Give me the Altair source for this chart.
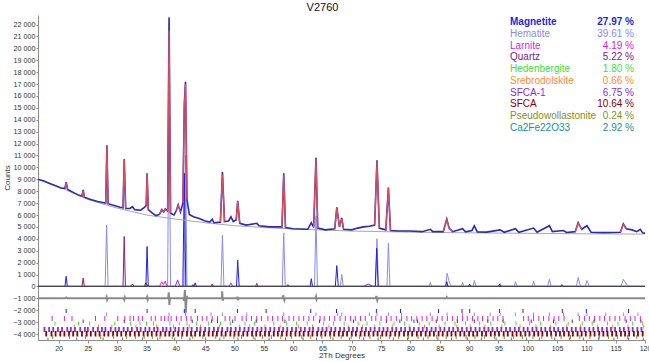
import altair as alt
import pandas as pd

# ------------------------------------------------------------------ data
title_text = "V2760"

phase_names = ["Magnetite", "Hematite", "Larnite", "Quartz", "Hedenbergite",
               "Srebrodolskite", "SFCA-1", "SFCA", "Pseudowollastonite", "Ca2Fe22O33"]
phase_pct = [27.97, 39.61, 4.19, 5.22, 1.80, 0.66, 6.75, 10.64, 0.24, 2.92]
phase_colors = ["#1f1fe6", "#8a8aee", "#e020e0", "#802080", "#3ee03e",
                "#ff8c30", "#8a2be2", "#8b0000", "#8c8c1a", "#1a9090"]

# observed pattern (2Th, counts)
obs_tt = [16.5, 17.5, 18.5, 19.5, 20.5, 21.1, 21.3, 21.55, 22.5, 23.5, 24.0, 24.2, 24.4, 25.5, 26.5,
          27.5, 28.05, 28.25, 28.45, 29.5, 30.5, 31.0, 31.2, 31.45, 32.2, 32.6, 33.0, 34.0, 34.7,
          34.95, 35.1, 35.3, 36.0, 36.6, 37.2, 37.6, 37.9, 38.2, 38.6, 38.85, 39.1, 39.7, 40.1,
          40.4, 40.8, 41.2, 41.45, 41.65, 41.9, 42.3, 43.0, 44.0, 45.0, 45.8, 46.2, 46.5, 47.6,
          47.95, 48.3, 49.0, 49.4, 49.8, 50.3, 50.55, 50.9, 52.0, 53.8, 54.2, 56.0, 58.1, 58.4,
          58.7, 60.0, 62.5, 63.1, 63.5, 63.9, 64.2, 65.5, 67.1, 67.45, 67.9, 68.3, 68.6, 70.0,
          71.0, 72.0, 73.0, 73.9, 74.3, 74.7, 75.8, 76.25, 76.6, 78.0, 80.0, 82.0, 83.4, 83.8,
          85.6, 86.2, 86.6, 87.2, 88.9, 89.4, 90.5, 90.9, 91.4, 93.0, 95.3, 96.0, 97.9, 98.5,
          101.0, 101.6, 103.7, 104.2, 106.1, 106.6, 108.1, 108.6, 109.2, 110.1, 110.8, 113.0,
          115.8, 116.3, 116.8, 117.8, 118.6, 119.2, 119.6, 120.0]
obs_ct = [9000, 8850, 8650, 8450, 8250, 8250, 8750, 8150, 7900, 7650, 7600, 8100, 7500, 7300, 7150,
          7050, 7000, 11850, 6950, 6800, 6650, 6600, 10700, 6550, 6550, 6700, 6450, 6400, 6650,
          6800, 9500, 6450, 6150, 5950, 6050, 6450, 6250, 6500, 6350, 22600, 6150, 6000, 6400,
          6850, 6250, 7000, 15300, 17200, 7300, 6050, 5850, 5700, 5500, 5400, 5650, 5350, 5400,
          9600, 5450, 5500, 5850, 5450, 5600, 7200, 5300, 5150, 5300, 5100, 5000, 5000, 9500,
          4950, 4850, 4800, 5350, 4950, 10800, 4900, 4750, 4850, 6650, 5000, 5750, 4800, 4750,
          4900, 5000, 5050, 5150, 10600, 4900, 4750, 8300, 4700, 4650, 4650, 4600, 4800, 4600,
          4600, 5650, 4900, 4600, 4850, 4580, 4700, 5100, 4580, 4560, 4750, 4550, 4850, 4550,
          4900, 4550, 5100, 4600, 4700, 4530, 4600, 5350, 4800, 5100, 4550, 4520,
          4550, 5250, 4850, 4750, 4600, 4800, 4500, 4480]

# calculated pattern where it rises above the noise (one list per peak)
calc_peaks = [
    [(21.1, 8250), (21.3, 8700), (21.55, 8150)],
    [(24.0, 7600), (24.2, 8050), (24.4, 7500)],
    [(28.05, 7000), (28.25, 11800), (28.45, 6950)],
    [(31.0, 6600), (31.2, 10650), (31.45, 6550)],
    [(34.95, 6800), (35.1, 9450), (35.3, 6450)],
    [(37.2, 6050), (37.6, 6400), (37.9, 6250), (38.2, 6450), (38.6, 6350)],
    [(38.6, 6350), (38.85, 21500), (39.1, 6150)],
    [(40.1, 6400), (40.4, 6800), (40.8, 6250)],
    [(41.2, 7000), (41.45, 15200), (41.65, 17000), (41.9, 7300)],
    [(47.6, 5400), (47.95, 9400), (48.3, 5450)],
    [(50.3, 5600), (50.55, 7150), (50.9, 5300)],
    [(58.1, 5000), (58.4, 9400), (58.7, 4950)],
    [(63.5, 4950), (63.9, 10700), (64.2, 4900)],
    [(67.1, 4850), (67.45, 6600), (67.9, 5000), (68.3, 5700), (68.6, 4800)],
    [(73.9, 5150), (74.3, 10500), (74.7, 4900)],
    [(75.8, 4750), (76.25, 8250), (76.6, 4700)],
    [(85.6, 4600), (86.2, 5600), (86.6, 4900), (87.2, 4600)],
    [(108.1, 4600), (108.6, 5300), (109.2, 4800)],
    [(115.8, 4550), (116.3, 5200), (116.8, 4850)],
]

# background
bkg_tt = [16.5, 20, 25, 30, 35, 40, 45, 50, 55, 60, 70, 80, 90, 100, 110, 120]
bkg_ct = [8980, 8380, 7300, 6580, 6000, 5650, 5350, 5100, 4950, 4820, 4650, 4560, 4500, 4460, 4420, 4400]

# difference curve (obs - calc, shifted)
diff_tt = [16.5, 21.1, 21.3, 21.5, 28.1, 28.2, 28.3, 28.4, 31.1, 31.2, 31.3, 31.4, 35.0, 35.1, 35.2,
           35.3, 38.7, 38.8, 38.9, 39.0, 39.1, 41.3, 41.4, 41.55, 41.7, 41.85, 42.0, 47.85, 47.9,
           48.0, 48.1, 50.45, 50.5, 50.6, 50.7, 58.2, 58.3, 58.5, 58.6, 63.8, 63.9, 64.0, 64.1,
           74.1, 74.2, 74.35, 74.45, 86.1, 86.2, 86.3, 120.0]
diff_ct = [-1000, -1000, -930, -1000, -1000, -880, -1120, -1000, -1000, -1120, -900, -1000, -1000,
           -880, -1120, -1000, -1000, -500, -1550, -950, -1000, -1000, -1200, -300, -2200, -800,
           -1000, -1000, -400, -1200, -1000, -1000, -850, -1150, -1000, -1000, -750, -1150, -1000,
           -1000, -850, -1100, -1000, -1000, -800, -1150, -1000, -1000, -900, -1000, -1000]

# individual phase contributions (2Th, counts)
hem_curve = [(16.5, 0), (27.95, 0), (28.2, 5150), (28.45, 0), (38.6, 0), (38.85, 16900), (39.1, 0),
             (41.4, 0), (41.65, 11000), (41.9, 0), (47.7, 0), (47.95, 4300), (48.2, 0), (58.15, 0),
             (58.4, 4500), (58.65, 0), (63.65, 0), (63.9, 5900), (64.15, 0), (68.05, 0), (68.3, 1000),
             (68.55, 0), (74.05, 0), (74.3, 4000), (74.55, 0), (76.0, 0), (76.25, 3650), (76.5, 0),
             (83.2, 0), (83.4, 350), (83.6, 0), (86.0, 0), (86.25, 1100), (86.7, 250), (87.0, 0),
             (88.7, 0), (88.9, 350), (89.1, 0), (90.7, 0), (90.9, 500), (91.2, 0), (95.1, 0),
             (95.3, 250), (95.6, 0), (97.7, 0), (97.9, 400), (98.2, 0), (100.8, 0), (101.0, 450),
             (101.3, 0), (103.4, 0), (103.7, 600), (104.0, 0), (108.3, 0), (108.6, 750), (109.0, 0),
             (109.8, 0), (110.1, 500), (110.5, 0), (115.9, 0), (116.3, 600), (116.9, 150),
             (117.3, 0), (120, 0)]
mag_curve = [(16.5, 0), (21.1, 0), (21.3, 850), (21.5, 0), (34.9, 0), (35.1, 3350), (35.3, 0),
             (41.2, 0), (41.45, 9500), (41.7, 0), (43.1, 0), (43.3, 300), (43.5, 0), (50.35, 0),
             (50.55, 2200), (50.8, 0), (62.9, 0), (63.1, 650), (63.3, 0), (67.2, 0), (67.45, 1750),
             (67.7, 0), (74.0, 0), (74.25, 3200), (74.5, 0), (86.0, 0), (86.2, 400), (86.4, 0),
             (89.9, 0), (90.1, 200), (90.3, 0), (95.0, 0), (95.2, 200), (95.4, 0), (105.6, 0),
             (105.8, 150), (106.0, 0), (120, 0)]
qtz_curve = [(16.5, 0), (24.0, 0), (24.2, 700), (24.4, 0), (31.0, 0), (31.2, 4200), (31.4, 0),
             (42.7, 0), (42.9, 150), (43.1, 0), (46.0, 0), (46.2, 200), (46.4, 0), (53.6, 0),
             (53.8, 250), (54.0, 0), (58.9, 0), (59.1, 150), (59.3, 0), (120, 0)]
lar_curve = [(16.5, 0), (37.2, 0), (37.6, 400), (37.9, 150), (38.2, 450), (38.5, 0), (49.1, 0),
             (49.4, 300), (49.7, 0), (120, 0)]
sfca1_curve = [(16.5, 0), (39.9, 0), (40.3, 550), (40.7, 0), (72.0, 0), (72.8, 200), (73.6, 0), (120, 0)]
sfca_curve = [(16.5, 0), (32.3, 0), (32.6, 200), (32.9, 0), (34.6, 0), (34.9, 300), (35.2, 0), (120, 0)]
hed_curve = [(16.5, 0), (34.5, 0), (34.8, 200), (35.0, 0), (120, 0)]

# reflection positions (2Th) for each phase
ticks_mag = [21.3, 35.1, 41.45, 43.3, 50.5, 55.4, 63.0, 67.4, 74.2, 78.3, 84.8, 88.8, 90.1, 95.2,
             99.2, 105.9, 110.0, 117.2]
ticks_hem = [28.2, 38.85, 41.65, 46.0, 47.95, 52.1, 58.4, 63.9, 67.6, 68.3, 73.0, 74.3, 76.25, 78.5,
             83.4, 86.25, 88.9, 90.9, 93.6, 95.3, 97.9, 101.0, 103.7, 106.1, 108.6, 110.1, 113.3,
             116.3, 118.8]
ticks_lar = [18.9, 21.0, 22.3, 26.3, 27.9, 30.1, 31.3, 32.2, 32.8, 33.6, 34.3, 35.8, 36.5, 37.5, 38.1,
             38.7, 39.2, 40.1, 40.9, 41.8, 42.6, 43.7, 44.5, 45.3, 46.2, 47.1, 48.4, 49.2, 50.1, 51.3,
             52.0, 52.9, 53.8, 54.6, 55.7, 56.5, 57.4, 58.2, 59.3, 60.1, 61.0, 61.8, 62.7, 63.5,
             64.6, 65.3, 66.2, 67.1, 68.0, 68.9, 69.8, 70.6, 71.5, 72.3, 73.4, 74.1, 75.0, 75.9,
             76.7, 77.6, 78.5, 79.4, 80.2, 81.1, 82.0, 82.8, 83.7, 84.6, 85.4, 86.3, 87.2, 88.0,
             88.9, 89.7, 90.6, 91.5, 92.3, 93.2, 94.1, 94.9, 95.8, 99.3, 100.1, 101.0, 101.9,
             102.7, 103.6, 104.5, 105.3, 106.2, 108.8, 109.7, 110.5, 111.4, 112.3, 113.1, 114.0,
             114.9, 115.7, 116.6, 117.5, 118.3, 119.2]
ticks_qtz = [24.2, 31.2, 42.8, 46.1, 47.1, 49.7, 53.7, 58.6, 64.5, 70.3, 75.9, 78.2, 80.6, 81.2, 84.4,
             88.0, 90.9, 93.2, 95.8, 100.6, 104.4, 107.6, 111.3, 116.8, 119.3]
ticks_hed = [19.4, 23.4, 25.3, 29.6, 32.3, 33.9, 35.0, 36.2, 39.0, 40.6, 41.9, 43.5, 45.6, 47.6, 49.3,
             51.8, 53.4, 56.7, 58.9, 60.6, 62.4, 65.2, 66.9, 68.7, 71.1, 72.6, 74.8, 77.2, 79.0,
             81.5, 83.2, 85.9, 87.6, 89.4, 91.8, 93.7, 96.1, 98.0, 100.3, 102.2, 104.8, 106.9,
             109.3, 111.0, 113.6, 115.4, 117.9, 119.6]
ticks_sre = [22.7, 26.8, 29.1, 33.2, 36.7, 39.6, 42.3, 44.2, 47.4, 50.9, 52.6, 55.2, 57.8, 60.9, 63.3,
             66.1, 69.4, 71.8, 73.9, 76.9, 79.8, 82.4, 84.9, 87.9, 90.2, 92.7, 95.6, 98.7, 101.4,
             103.9, 106.6, 109.0, 111.9, 114.5, 117.1, 119.8]
ticks_sfca1 = [17.6, 18.4, 19.1, 19.9, 20.6, 21.5, 22.1, 22.8, 23.7, 24.5, 25.0, 25.9, 26.7, 27.4,
               28.0, 28.9, 29.7, 30.3, 31.1, 31.8, 32.5, 33.4, 34.0, 34.8, 35.5, 36.3, 36.9, 37.8,
               38.4, 39.1, 39.9, 40.5, 41.3, 42.0, 42.7, 43.6, 44.2, 45.0, 45.7, 46.5, 47.2, 47.9,
               48.8, 49.4, 50.2, 50.9, 51.7, 52.4, 53.1, 53.9, 54.6, 55.3, 56.1, 56.8, 57.6, 58.3,
               59.0, 59.8, 60.5, 61.3, 62.0, 62.8, 63.4, 64.3, 65.0, 65.7, 66.5, 67.2, 68.0, 68.7,
               69.5, 70.2, 70.9, 71.7, 72.4, 73.2, 73.9, 74.7, 75.4, 76.1, 76.9, 77.6, 78.4, 79.1,
               79.9, 80.6, 81.4, 82.1, 82.8, 83.6, 84.3, 85.1, 85.8, 86.6, 87.3, 88.1, 88.8, 89.6,
               90.3, 91.1, 91.8, 92.6, 93.3, 94.0, 94.8, 95.5, 96.3, 97.0, 97.8, 98.5, 99.3, 100.0,
               100.8, 101.5, 102.3, 103.0, 103.8, 104.5, 105.2, 106.0, 106.7, 107.5, 108.2, 109.0,
               109.7, 110.5, 111.2, 112.0, 112.7, 113.5, 114.2, 114.9, 115.7, 116.4, 117.2, 117.9,
               118.7, 119.4]
ticks_sfca = [17.9, 18.8, 19.5, 20.3, 21.0, 21.8, 22.5, 23.2, 24.0, 24.8, 25.5, 26.3, 27.0, 27.8,
              28.5, 29.3, 30.0, 30.7, 31.5, 32.2, 33.0, 33.7, 34.5, 35.2, 35.9, 36.7, 37.4, 38.2,
              38.9, 39.6, 40.4, 41.1, 41.9, 42.6, 43.3, 44.1, 44.8, 45.6, 46.3, 47.0, 47.8, 48.5,
              49.3, 50.0, 50.7, 51.5, 52.2, 53.0, 53.7, 54.4, 55.2, 55.9, 56.7, 57.4, 58.1, 58.9,
              59.6, 60.4, 61.1, 61.8, 62.6, 63.3, 64.1, 64.8, 65.5, 66.3, 67.0, 67.8, 68.5, 69.2,
              70.0, 70.7, 71.5, 72.2, 72.9, 73.7, 74.4, 75.2, 75.9, 76.6, 77.4, 78.1, 78.9, 79.6,
              80.3, 81.1, 81.8, 82.6, 83.3, 84.0, 84.8, 85.5, 86.3, 87.0, 87.7, 88.5, 89.2, 90.0,
              90.7, 91.4, 92.2, 92.9, 93.7, 94.4, 95.1, 95.9, 96.6, 97.4, 98.1, 98.8, 99.6, 100.3,
              101.1, 101.8, 102.5, 103.3, 104.0, 104.8, 105.5, 106.2, 107.0, 107.7, 108.5, 109.2,
              109.9, 110.7, 111.4, 112.2, 112.9, 113.6, 114.4, 115.1, 115.9, 116.6, 117.3, 118.1,
              118.8, 119.6]
ticks_psw = [19.0, 21.9, 24.6, 27.2, 29.4, 31.6, 33.1, 34.6, 36.0, 37.3, 39.4, 41.0, 42.9, 44.6, 46.8,
             48.2, 49.9, 51.2, 53.2, 54.8, 56.3, 57.9, 59.7, 61.5, 63.0, 64.9, 66.4, 68.2, 69.9,
             71.3, 73.1, 74.9, 76.4, 78.0, 79.7, 81.3, 83.0, 84.5, 86.1, 87.8, 89.5, 91.0, 92.6,
             94.3, 96.0, 97.6, 99.1, 100.9, 102.4, 104.1, 105.7, 107.3, 108.9, 110.6, 112.2,
             113.8, 115.3, 117.0, 118.6]
ticks_cfo = [18.2, 23.1, 27.6, 30.9, 34.3, 36.9, 39.8, 42.4, 45.1, 47.5, 50.6, 53.5, 55.9, 58.7, 61.7,
             64.0, 66.8, 69.6, 72.0, 74.5, 77.1, 79.5, 82.2, 84.7, 87.0, 89.7, 92.1, 94.6, 97.2,
             99.8, 102.0, 104.6, 107.1, 109.5, 112.1, 114.7, 117.2, 119.7]

# ------------------------------------------------------------------ layout (pixels)
W, H = 607, 325
PAD = {"left": 38, "top": 15, "right": 4, "bottom": 22}
Y_DOM = [-4500, 22800]
X_DOM = [16.5, 120]


def px_to_counts(py):
    # py: pixel offset from top of plot area
    return Y_DOM[1] - py / H * (Y_DOM[1] - Y_DOM[0])


# tick-row bands (top, bottom in px from plot top) and stroke widths
tick_rows = [(294, 298, 1), (297.5, 301, 1), (301, 306, 1), (304.5, 308, 1), (306.5, 310.5, 1),
             (309.5, 313.5, 1), (312, 317, 1.8), (316, 321.5, 1.8), (320, 324, 1), (322.5, 325, 1)]
tick_lists = [ticks_mag, ticks_hem, ticks_lar, ticks_qtz, ticks_hed, ticks_sre, ticks_sfca1,
              ticks_sfca, ticks_psw, ticks_cfo]

FONT = "Liberation Sans"

# ------------------------------------------------------------------ frames
obs_df = pd.DataFrame({"t": obs_tt, "c": obs_ct})
bkg_df = pd.DataFrame({"t": bkg_tt, "c": bkg_ct})
diff_df = pd.DataFrame({"t": diff_tt, "c": diff_ct})
calc_df = pd.DataFrame([{"seg": i, "t": t, "c": c} for i, pk in enumerate(calc_peaks) for t, c in pk])


def curve_df(curve):
    return pd.DataFrame({"t": [p[0] for p in curve], "c": [p[1] for p in curve]})


tick_records = []
for i, lst in enumerate(tick_lists):
    top, bot, sw = tick_rows[i]
    for t in lst:
        tick_records.append({"t": t, "c": px_to_counts(top), "c2": px_to_counts(bot),
                             "col": phase_colors[i], "sw": sw})
ticks_df = pd.DataFrame(tick_records)

leg_df = pd.DataFrame({"name": phase_names, "pct": phase_pct, "col": phase_colors,
                       "idx": list(range(len(phase_names)))})
leg_df["ly"] = 7.3 + leg_df["idx"] * 11.7
leg_df["ptxt"] = [f"{p:.2f} %" for p in phase_pct]

# ------------------------------------------------------------------ encodings
X = alt.X("t:Q", scale=alt.Scale(domain=X_DOM, nice=False, zero=False),
          axis=alt.Axis(values=list(range(20, 121, 5)), title="2Th Degrees", grid=False,
                        labelFontSize=7, titleFontSize=8, titleFontWeight="normal",
                        tickSize=3, labelPadding=1, titlePadding=0, labelColor="#333333",
                        titleColor="#333333", domainColor="#8c8c8c", tickColor="#8c8c8c",
                        labelFlush=False, labelOverlap=False))
Y = alt.Y("c:Q", scale=alt.Scale(domain=Y_DOM, nice=False, zero=False),
          axis=alt.Axis(values=list(range(-4000, 22001, 1000)), title="Counts", grid=False,
                        labelExpr="replace(format(datum.value, ','), ',', ' ')",
                        labelFontSize=7.2, titleFontSize=8, titleFontWeight="normal",
                        tickSize=2, labelPadding=1, titlePadding=1, labelColor="#333333",
                        titleColor="#333333", domainColor="#8c8c8c", tickColor="#8c8c8c",
                        labelOverlap=False, labelFlush=False, labelBound=False,
                        labelSeparation=0))

layers = []

# phase curves
for curve, col in [(sfca_curve, phase_colors[7]), (hed_curve, phase_colors[4]),
                   (lar_curve, phase_colors[2]), (sfca1_curve, phase_colors[6]),
                   (qtz_curve, phase_colors[3]), (hem_curve, phase_colors[1]),
                   (mag_curve, phase_colors[0])]:
    layers.append(alt.Chart(curve_df(curve)).mark_line(
        color=col, strokeWidth=1, clip=True).encode(x=X, y=Y))

# zero line
layers.append(alt.Chart(pd.DataFrame({"c": [0]})).mark_rule(color="#4a4a4a", strokeWidth=1)
              .encode(y=Y))

# background
layers.append(alt.Chart(bkg_df).mark_line(color="#a8a8a8", strokeWidth=1, clip=True)
              .encode(x=X, y=Y))
# observed
layers.append(alt.Chart(obs_df).mark_line(color="#2a2ab4", strokeWidth=1.6, clip=True)
              .encode(x=X, y=Y))
# calculated
layers.append(alt.Chart(calc_df).mark_line(color="#f25050", strokeWidth=1.3, opacity=0.9, clip=True)
              .encode(x=X, y=Y, detail="seg:N"))
# difference
layers.append(alt.Chart(diff_df).mark_line(color="#8a8a8a", strokeWidth=2, clip=True)
              .encode(x=X, y=Y))
# reflection ticks
layers.append(alt.Chart(ticks_df).mark_rule(clip=True).encode(
    x=X, y=Y, y2="c2:Q", color=alt.Color("col:N", scale=None),
    strokeWidth=alt.StrokeWidth("sw:Q", scale=None)))

# legend (names and percentages)
for bold, sel in [(True, leg_df["idx"] == 0), (False, leg_df["idx"] != 0)]:
    sub = leg_df[sel]
    w = "bold" if bold else "normal"
    layers.append(alt.Chart(sub).mark_text(align="left", baseline="middle", fontSize=10,
                                           font=FONT, fontWeight=w).encode(
        x=alt.value(472), y=alt.Y("ly:Q", scale=None, axis=None),
        text="name:N", color=alt.Color("col:N", scale=None)))
    layers.append(alt.Chart(sub).mark_text(align="right", baseline="middle", fontSize=10,
                                           font=FONT, fontWeight=w).encode(
        x=alt.value(596), y=alt.Y("ly:Q", scale=None, axis=None),
        text="ptxt:N", color=alt.Color("col:N", scale=None)))

chart = alt.layer(*layers).properties(
    width=W, height=H,
    title=alt.TitleParams(title_text, fontSize=11, font=FONT, fontWeight="normal",
                          anchor="middle", dx=-19, offset=2, color="#111111"),
    autosize=alt.AutoSizeParams(type="none"),
    padding=PAD,
).configure(font=FONT).configure_view(stroke=None).configure_axisY(
    labelOverlap=False, labelSeparation=0)

chart.save("out.html", embed_options={"renderer": "svg", "actions": False})
